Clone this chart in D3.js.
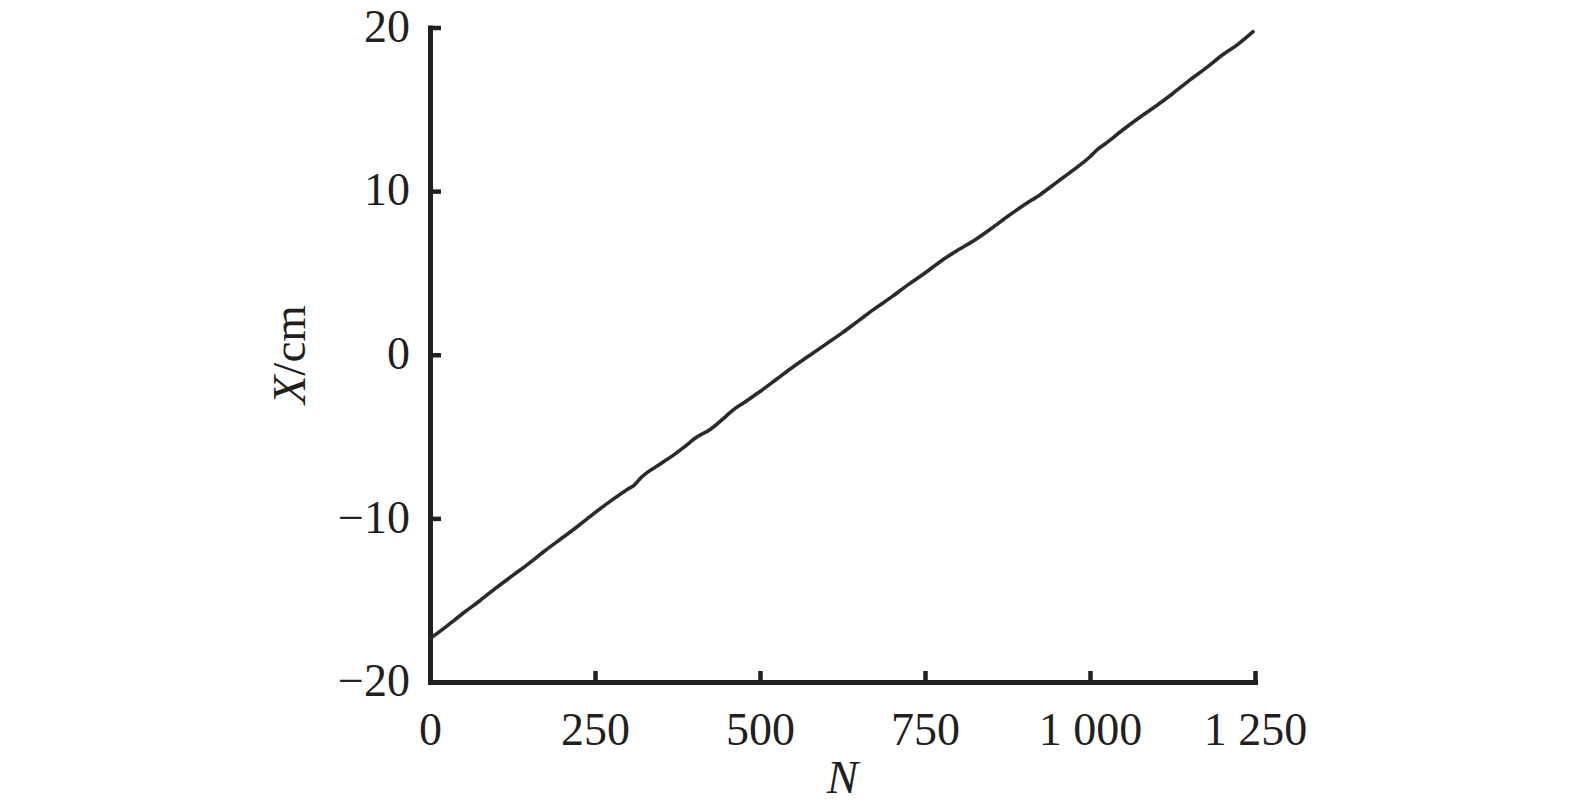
<!DOCTYPE html>
<html>
<head>
<meta charset="utf-8">
<script src="https://cdn.jsdelivr.net/npm/d3@7"></script>
<style>
  html, body { margin: 0; padding: 0; background: #fff; }
  svg { display: block; }
  .axis text { font-family: "Liberation Serif", "Times New Roman", serif; font-size: 46px; fill: #231f20; }
  .axis-title { font-family: "Liberation Serif", "Times New Roman", serif; font-size: 47px; fill: #231f20; }
</style>
</head>
<body>
<div id="chart"></div>
<script>
// N (count) on the x axis, X displacement in cm on the y axis
const nValues = [0, 25, 50, 75, 100, 125, 150, 175, 200, 225, 250, 275, 300, 310, 320, 350, 375, 394, 400, 425, 450, 460, 475, 500, 525, 550, 575, 600, 625, 650, 675, 700, 725, 750, 775, 800, 825, 850, 875, 900, 925, 950, 975, 1000, 1010, 1025, 1050, 1075, 1100, 1125, 1150, 1175, 1200, 1225, 1247];
const xValues = [-17.35, -16.6, -15.8, -15.05, -14.25, -13.5, -12.75, -11.95, -11.2, -10.45, -9.65, -8.9, -8.2, -7.95, -7.5, -6.65, -5.95, -5.35, -5.15, -4.55, -3.7, -3.35, -2.95, -2.25, -1.5, -0.75, -0.05, 0.65, 1.35, 2.1, 2.85, 3.55, 4.3, 5.0, 5.75, 6.4, 7.0, 7.7, 8.45, 9.15, 9.8, 10.55, 11.3, 12.1, 12.5, 12.95, 13.75, 14.5, 15.2, 15.95, 16.75, 17.5, 18.3, 19.0, 19.75];

const xTicks = [0, 250, 500, 750, 1000, 1250];
const xTickLabels = ["0", "250", "500", "750", "1 000", "1 250"];
const yTicks = [-20, -10, 0, 10, 20];
const yTickLabels = ["\u221220", "\u221210", "0", "10", "20"];

const width = 1575, height = 809;
const margin = { top: 27.5, right: 320, bottom: 127, left: 430 };
const ink = "#231f20";

const svg = d3.select("#chart").append("svg").attr("width", width).attr("height", height);

const x = d3.scaleLinear().domain([0, 1250]).range([margin.left, width - margin.right]);
const y = d3.scaleLinear().domain([-20, 20]).range([height - margin.bottom, margin.top]);

const xAxis = d3.axisBottom(x)
  .tickValues(xTicks)
  .tickFormat((d, i) => xTickLabels[i])
  .tickSizeInner(-11)
  .tickSizeOuter(0)
  .tickPadding(0);

const yAxis = d3.axisLeft(y)
  .tickValues(yTicks)
  .tickFormat((d, i) => yTickLabels[i])
  .tickSizeInner(-11)
  .tickSizeOuter(0)
  .tickPadding(20);

const gx = svg.append("g").attr("class", "axis").attr("transform", `translate(0,${y(-20)})`).call(xAxis);
const gy = svg.append("g").attr("class", "axis").attr("transform", `translate(${x(0)},0)`).call(yAxis);

[gx, gy].forEach((g) => {
  g.select(".domain").attr("stroke", ink).attr("stroke-width", 5).attr("stroke-linecap", "square");
  g.selectAll(".tick line").attr("stroke", ink).attr("stroke-width", 4.5);
});
gx.selectAll(".tick text").attr("y", 30).attr("dy", "0.71em");
gy.selectAll(".tick text").attr("dy", "0.3em");

const line = d3.line()
  .x((d, i) => x(nValues[i]))
  .y((d) => y(d))
  .curve(d3.curveMonotoneX);

svg.append("path")
  .datum(xValues)
  .attr("fill", "none")
  .attr("stroke", "#2b2b2b")
  .attr("stroke-width", 3.6)
  .attr("stroke-linejoin", "round")
  .attr("stroke-linecap", "round")
  .attr("d", line);

svg.append("text")
  .attr("class", "axis-title")
  .attr("x", (x(0) + x(1250)) / 2)
  .attr("y", 793)
  .attr("text-anchor", "middle")
  .append("tspan").attr("font-style", "italic").text("N");

const yTitle = svg.append("text")
  .attr("class", "axis-title")
  .attr("text-anchor", "middle")
  .attr("transform", `translate(305,${(y(20) + y(-20)) / 2}) rotate(-90)`);
yTitle.append("tspan").attr("font-style", "italic").text("X");
yTitle.append("tspan").text("/cm");
</script>
</body>
</html>
